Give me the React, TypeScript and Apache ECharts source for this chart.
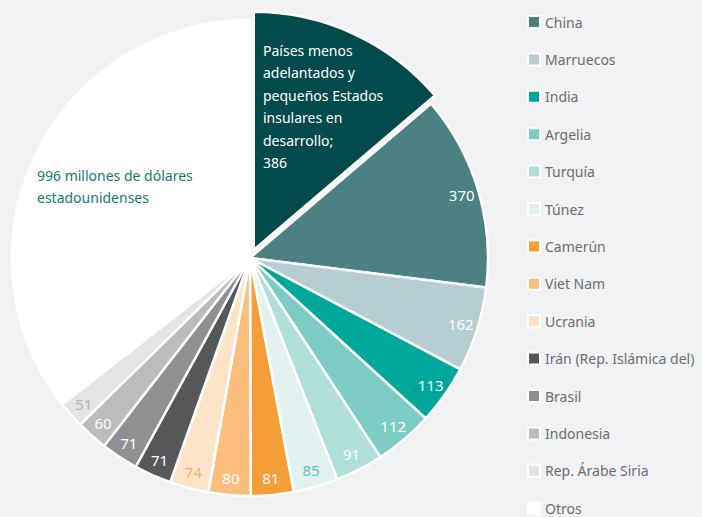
import React, { useEffect, useRef } from "react";
import * as echarts from "echarts";

const categories = [
  "Países menos adelantados y pequeños Estados insulares en desarrollo",
  "China",
  "Marruecos",
  "India",
  "Argelia",
  "Turquía",
  "Túnez",
  "Camerún",
  "Viet Nam",
  "Ucrania",
  "Irán (Rep. Islámica del)",
  "Brasil",
  "Indonesia",
  "Rep. Árabe Siria",
  "Otros",
];
const values = [386, 370, 162, 113, 112, 91, 85, 81, 80, 74, 71, 71, 60, 51, 996];
const colors = [
  "#024a4c", "#4c8183", "#b6cdd1", "#00a89c", "#7ccbc5", "#b0ded9", "#e1f2f0",
  "#f59d37", "#fcbe7c", "#fde4c9", "#565759", "#8f9092", "#bbbcbe", "#e3e4e5", "#ffffff",
];
const labelColors = [
  "#ffffff", "#ffffff", "#ffffff", "#ffffff", "#ffffff", "#ffffff", "#5cc4bb",
  "#ffffff", "#ffffff", "#fbb06b", "#ffffff", "#ffffff", "#ffffff", "#b3b4b6", "#ffffff",
];
const ldcLabel = "Países menos\nadelantados y\npequeños Estados\ninsulares en\ndesarrollo;\n386";
const otrosLabel = "996 millones de dólares\nestadounidenses";

const FONT = "'Noto Sans', sans-serif";

export default function App() {
  const ref = useRef<HTMLDivElement>(null);
  useEffect(() => {
    document.body.style.margin = "0";
    const chart = echarts.init(ref.current!, null, { renderer: "svg" });
    const n = categories.length;
    const center = [250, 258];
    chart.setOption({
      animation: false,
      backgroundColor: "#f1f2f4",
      legend: {
        orient: "vertical",
        left: 527,
        top: 14,
        height: 517,
        padding: 0,
        icon: "rect",
        itemWidth: 12,
        itemHeight: 12,
        itemGap: 21.4,
        selectedMode: false,
        data: categories.slice(1),
        textStyle: { color: "#6d6e71", fontSize: 14, fontFamily: FONT, lineHeight: 16 },
      },
      graphic: [
        {
          type: "text",
          left: 263,
          top: 39,
          z: 100,
          style: { text: ldcLabel, fill: "#ffffff", font: `14px ${FONT}`, lineHeight: 22.5 },
        },
        {
          type: "text",
          left: 37,
          top: 164,
          z: 100,
          style: { text: otrosLabel, fill: "#127a70", font: `14px ${FONT}`, lineHeight: 22.5 },
        },
      ],
      series: [
        {
          type: "pie",
          center,
          radius: 238,
          startAngle: 90,
          clockwise: true,
          selectedMode: "single",
          selectedOffset: 9,
          avoidLabelOverlap: false,
          label: { show: false },
          labelLine: { show: false },
          emphasis: { disabled: true },
          select: { itemStyle: { borderColor: "#ffffff", borderWidth: 2.5 } },
          itemStyle: { borderColor: "#ffffff", borderWidth: 2.5 },
          data: categories.map((name, i) => ({
            name,
            value: values[i],
            selected: i === 0,
            itemStyle: { color: colors[i] },
          })),
        },
        {
          type: "pie",
          center,
          radius: [198, 238],
          startAngle: 90,
          clockwise: true,
          silent: true,
          z: 5,
          avoidLabelOverlap: false,
          emphasis: { disabled: true },
          itemStyle: { color: "rgba(0,0,0,0)", borderWidth: 0 },
          labelLine: { show: false },
          data: categories.map((name, i) => ({
            name,
            value: values[i],
            label: {
              show: i !== 0 && i !== n - 1,
              position: "inside",
              formatter: "{c}",
              color: labelColors[i],
              fontSize: 15,
              fontFamily: FONT,
            },
          })),
        },
      ],
    });
    return () => chart.dispose();
  }, []);
  return <div ref={ref} style={{ width: 702, height: 517 }} />;
}
